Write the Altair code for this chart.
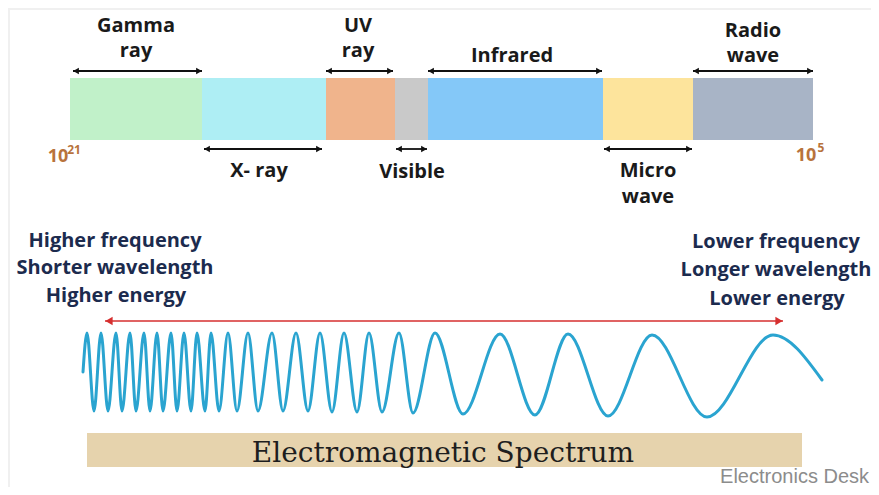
import altair as alt
import pandas as pd

# ---------------- data (pixel-like coordinates) ----------------
band_names = ["Gamma", "X-ray", "UV", "Visible", "Infrared", "Micro", "Radio"]
band_start = [70, 202, 326, 395, 428, 603, 693]
band_end = [202, 326, 395, 428, 603, 693, 813]
band_colors = ["#c1f1c9", "#aeeef4", "#f0b48c", "#c9c9c9", "#84c8f8", "#fde49c", "#a8b4c6"]
bar_top = [78] * 7
bar_bottom = [140] * 7

top_labels = ["Gamma", "ray", "UV", "ray", "Infrared", "Radio", "wave"]
top_label_x = [136, 136, 358, 358, 512, 753, 753]
top_label_y = [32, 57, 32, 57, 62, 37, 62]

bottom_labels = ["X- ray", "Visible", "Micro", "wave"]
bottom_label_x = [259, 412, 648, 648]
bottom_label_y = [177, 178, 177, 203]

range_x1 = [73, 326, 428, 693, 204, 396, 604]
range_x2 = [202, 393, 602, 813, 322, 427, 692]
range_y = [71, 71, 71, 71, 149, 149, 149]

exp_base = ["10", "10"]
exp_base_x = [58, 806]
exp_base_y = [162, 161]
exp_power = ["21", "5"]
exp_power_x = [74, 821]
exp_power_y = [154, 152]

left_lines = ["Higher frequency", "Shorter wavelength", "Higher energy"]
left_x = [115, 115, 116]
left_y = [247, 274, 302]
right_lines = ["Lower frequency", "Longer wavelength", "Lower energy"]
right_x = [776, 776, 777]
right_y = [248, 276, 305]

red_arrow_x1 = [105]
red_arrow_x2 = [783]
red_arrow_y = [321]

wave_x = [83, 87, 94, 101, 108, 116, 122, 130, 136, 144, 150, 157, 163, 171, 177,
          184, 191, 197, 205, 211, 219, 228, 237, 248, 258, 272, 283, 296, 308, 320,
          332, 344, 357, 369, 382, 399, 413, 435, 463, 500, 535, 568, 608, 652, 707,
          773, 822]
wave_y = [372, 333, 411, 333, 411, 333, 411, 333, 411, 333, 411, 333, 411, 333, 411,
          333, 411, 333, 411, 333, 411, 333, 411, 333, 411, 333, 411, 333, 411, 333,
          412, 333, 412, 333, 412, 333, 413, 333, 414, 334, 415, 334, 416, 335, 417,
          335, 380]

title_text = ["Electromagnetic Spectrum"]
title_x = [443]
title_y = [462]
title_band = {"x": [87], "x2": [802], "y": [433], "y2": [467]}

credit = ["Electronics Desk"]
credit_x = [869]
credit_y = [483]

# ---------------- chart ----------------
XS = alt.Scale(domain=[8, 871], nice=False, zero=False)
YS = alt.Scale(domain=[8, 487], nice=False, zero=False, reverse=True)


def X(f):
    return alt.X(f"{f}:Q", scale=XS, axis=None)


def Y(f):
    return alt.Y(f"{f}:Q", scale=YS, axis=None)


panel = alt.Chart(pd.DataFrame({"x": [10], "x2": [880], "y": [10], "y2": [496]})).mark_rect(
    color="white").encode(x=X("x"), x2="x2", y=Y("y"), y2="y2")

bands = alt.Chart(pd.DataFrame({"name": band_names, "x": band_start, "x2": band_end,
                                "y": bar_top, "y2": bar_bottom, "c": band_colors})).mark_rect().encode(
    x=X("x"), x2="x2", y=Y("y"), y2="y2", color=alt.Color("c:N", scale=None))

ranges_df = pd.DataFrame({"x": range_x1, "x2": range_x2, "y": range_y})
ranges_df["xl"] = ranges_df["x"] + 3
ranges_df["xr"] = ranges_df["x2"] - 3
range_rules = alt.Chart(ranges_df).mark_rule(color="#111", strokeWidth=1.8).encode(
    x=X("x"), x2="x2", y=Y("y"))
range_left = alt.Chart(ranges_df).mark_point(shape="triangle-left", filled=True, size=45,
                                             color="#111", opacity=1).encode(x=X("xl"), y=Y("y"))
range_right = alt.Chart(ranges_df).mark_point(shape="triangle-right", filled=True, size=45,
                                              color="#111", opacity=1).encode(x=X("xr"), y=Y("y"))


def text_layer(labels, xs, ys, align="center", **kw):
    df = pd.DataFrame({"t": labels, "x": xs, "y": ys})
    return alt.Chart(df).mark_text(align=align, baseline="alphabetic", **kw).encode(
        x=X("x"), y=Y("y"), text="t:N")


bold = dict(font="Open Sans", fontWeight="bold", fontSize=20)
top_text = text_layer(top_labels, top_label_x, top_label_y, color="#1a1a1a", **bold)
bottom_text = text_layer(bottom_labels, bottom_label_x, bottom_label_y, color="#1a1a1a", **bold)
exp1 = text_layer(exp_base, exp_base_x, exp_base_y, color="#b8733c", font="Open Sans",
                  fontWeight="bold", fontSize=18)
exp2 = text_layer(exp_power, exp_power_x, exp_power_y, color="#b8733c", font="Open Sans",
                  fontWeight="bold", fontSize=12)
left_text = text_layer(left_lines, left_x, left_y, color="#1c2b4e", **bold)
right_text = text_layer(right_lines, right_x, right_y, color="#1c2b4e", **bold)

red_df = pd.DataFrame({"x": red_arrow_x1, "x2": red_arrow_x2, "y": red_arrow_y})
red_df["xl"] = red_df["x"] + 4
red_df["xr"] = red_df["x2"] - 4
red_rule = alt.Chart(red_df).mark_rule(color="#d62f2f", strokeWidth=1.6).encode(
    x=X("x"), x2="x2", y=Y("y"))
red_left = alt.Chart(red_df).mark_point(shape="triangle-left", filled=True, size=70,
                                        color="#d62f2f", opacity=1).encode(x=X("xl"), y=Y("y"))
red_right = alt.Chart(red_df).mark_point(shape="triangle-right", filled=True, size=70,
                                         color="#d62f2f", opacity=1).encode(x=X("xr"), y=Y("y"))

wave = alt.Chart(pd.DataFrame({"x": wave_x, "y": wave_y})).mark_line(
    color="#2aa4d0", strokeWidth=3, interpolate="monotone", strokeCap="round").encode(
    x=X("x"), y=Y("y"), order="x:Q")

tband = alt.Chart(pd.DataFrame(title_band)).mark_rect(color="#e6d3ad").encode(
    x=X("x"), x2="x2", y=Y("y"), y2="y2")
title = text_layer(title_text, title_x, title_y, color="#1e1e1e", font="DejaVu Serif",
                   fontSize=28)
credit_t = text_layer(credit, credit_x, credit_y, align="right", color="#8c8c8c",
                      font="Liberation Sans", fontSize=20)

chart = alt.layer(panel, bands, range_rules, range_left, range_right, top_text, bottom_text,
                  exp1, exp2, left_text, right_text, red_rule, red_left, red_right, wave,
                  tband, title, credit_t).properties(
    width=863, height=479, autosize=alt.AutoSizeParams(type="none"), padding=0,
    background="#f0f0f0").configure_view(stroke=None)

chart.save("out.html", embed_options={"renderer": "svg", "actions": False})
